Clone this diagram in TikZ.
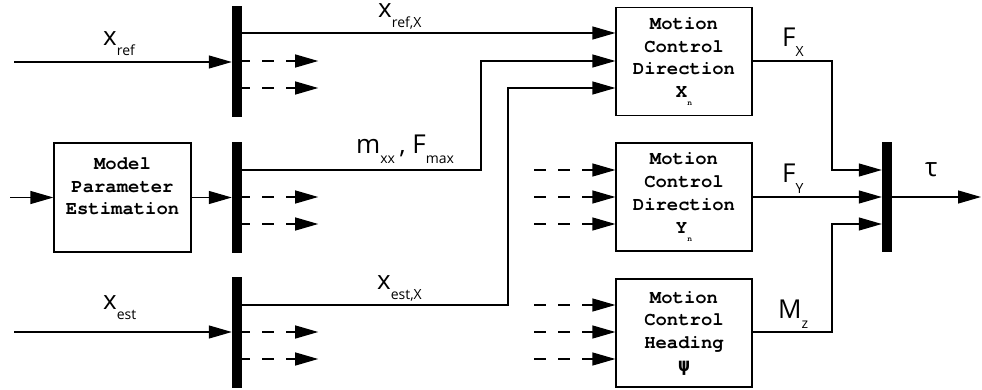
\documentclass[tikz,border=0pt]{standalone}
\usepackage{fontspec}
\setsansfont{Open Sans}
\newfontfamily\boxfont{TeX Gyre Cursor}
\newfontfamily\greekmono{DejaVu Sans Mono}
\usetikzlibrary{arrows.meta,positioning,calc}

% label with a low subscript, as in the drawing
\newcommand{\sublbl}[2]{#1\raisebox{-10pt}{\fontsize{14}{14}\selectfont #2}}
\newcommand{\boxsub}[2]{#1\raisebox{-8pt}{\fontsize{8}{8}\selectfont #2}}

\begin{document}
\begin{tikzpicture}[x=1pt,y=-1pt,
  block/.style={draw,line width=1.2pt,minimum width=136pt,minimum height=108pt,
    inner sep=0pt,align=center,font=\boxfont\bfseries\fontsize{18.9}{22.7}\selectfont},
  bus/.style={fill=black,draw=none,minimum width=10pt,minimum height=111pt,inner sep=0pt},
  sig/.style={line width=1.2pt,-{Triangle[length=23pt,width=13pt]}},
  dsig/.style={sig,dash pattern=on 12pt off 12pt},
  lbl/.style={font=\sffamily\fontsize{26}{26}\selectfont,inner sep=0pt,anchor=base west}]
\useasboundingbox (0,0) rectangle (982,390);

% rows of the signals
\foreach \n/\y in {a/33,b/61,c/88,d/170,e/197,f/224,g/305,h/332,i/359}
  \coordinate (r\n) at (0,\y);

% buses
\node[bus] (bref) at (237,61.5) {};
\node[bus] (bpar) at (237,197.5) {};
\node[bus] (best) at (237,332) {};
\node[bus,minimum height=110pt] (bout) at (887,197) {};

% blocks
\node[block,minimum width=137pt,minimum height=109pt] (mpe) at (122.5,197.5)
  {Model\\Parameter\\Estimation\\\mbox{}};
\node[block] (mcx) at (684,61.5) {Motion\\Control\\Direction\\\boxsub{X}{n}};
\node[block] (mcy) at (684,197) {Motion\\Control\\Direction\\\boxsub{Y}{n}};
\node[block] (mch) at (684,333) {Motion\\Control\\Heading\\{\greekmono\bfseries ψ}};

% inputs
\coordinate (xrefin) at (14,62);
\coordinate (mpein) at (10,197.5);
\coordinate (xestin) at (14,332);
\draw[sig] (xrefin) -- (bref.west |- xrefin);
\draw[sig] (mpein) -- (mpe.west);
\draw[sig] (mpe.east) -- (bpar.west |- mpe.east);
\draw[sig] (xestin) -- (best.west |- xestin);

% bus outputs
\coordinate (kp) at (481,0);
\coordinate (ke) at (508,0);
\draw[sig] (bref.east |- ra) -- (mcx.west |- ra);
\draw[sig] (bpar.east |- rd) -| (kp |- rb) -- (mcx.west |- rb);
\draw[sig] (best.east |- rg) -| (ke |- rc) -- (mcx.west |- rc);
\foreach \b/\r in {bref/b,bref/c,bpar/e,bpar/f,best/h,best/i}
  \draw[dsig,dash phase=4pt] (\b.east |- r\r) -- ++(76,0);
\foreach \r in {d,e,f}
  \draw[dsig] (mcy.west |- r\r) ++(-81,0) -- (mcy.west |- r\r);
\foreach \r in {g,h,i}
  \draw[dsig] (mch.west |- r\r) ++(-81,0) -- (mch.west |- r\r);

% to the output bus
\coordinate (kf) at (832,0);
\coordinate (tauout) at (981,197);
\draw[sig] (mcx.east |- rb) -| (kf |- rd) -- (bout.west |- rd);
\draw[sig] (mcy.east |- re) -- (bout.west |- re);
\draw[sig] (mch.east |- rh) -| (kf |- rf) -- (bout.west |- rf);
\draw[sig] (bout.east |- tauout) -- (tauout);

% labels
\node[lbl] (lxref) at (103,46) {\sublbl{x}{ref}};
\node[lbl] (lxrefx) at (378,18) {\sublbl{x}{ref,X}};
\node[lbl] (lpar) at (356,154) {\sublbl{m}{xx}\,, \sublbl{F}{max}};
\node[lbl] (lxestx) at (377,289) {\sublbl{x}{est,X}};
\node[lbl] (lxest) at (103,309) {\sublbl{x}{est}};
\node[lbl] (lfx) at (782,47) {\sublbl{F}{X}};
\node[lbl] (lfy) at (782,183) {\sublbl{F}{Y}};
\node[lbl] (lmz) at (778,318) {\sublbl{M}{z}};
\node[lbl] (ltau) at (925,177) {τ};
\end{tikzpicture}
\end{document}
